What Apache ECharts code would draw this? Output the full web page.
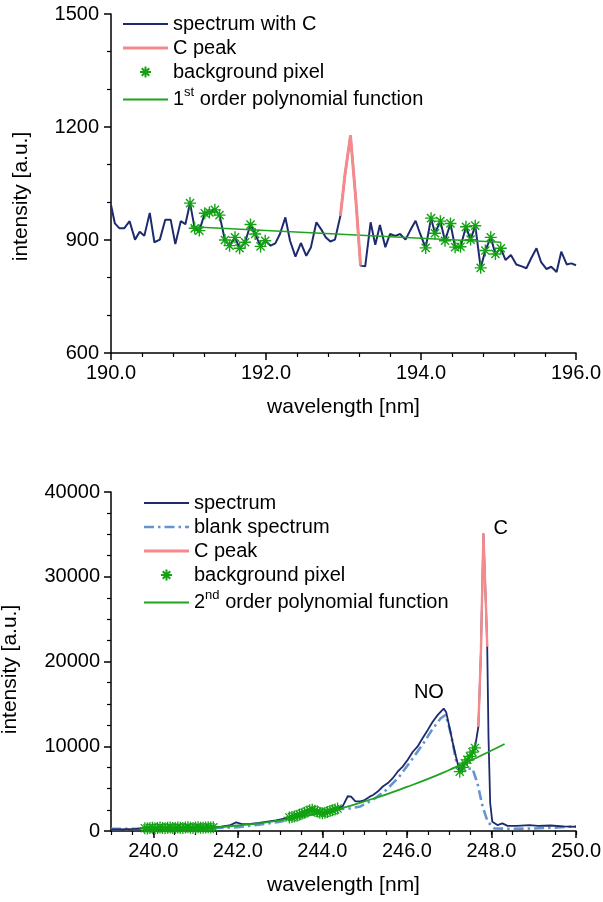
<!DOCTYPE html>
<html><head><meta charset="utf-8">
<script src="https://cdn.jsdelivr.net/npm/echarts@6/dist/echarts.min.js"></script>
<style>html,body{margin:0;padding:0;background:#fff}#c{width:603px;height:902px}</style>
</head><body><div id="c"></div>
<script>
// ---------- data ----------
const topXTicks = [190, 192, 194, 196];
const topYTicks = [600, 900, 1200, 1500];
const topSpectrum = [[190.00,993],[190.05,944],[190.11,931],[190.17,931],[190.24,950],[190.31,901],[190.37,922],[190.43,911],[190.50,972],[190.56,894],[190.63,901],[190.70,954],[190.77,954],[190.83,889],[190.90,950],[190.96,942],[191.02,998],[191.08,931],[191.14,925],[191.21,971],[191.27,973],[191.34,980],[191.40,966],[191.47,900],[191.53,885],[191.60,907],[191.66,878],[191.73,894],[191.80,941],[191.86,916],[191.93,883],[191.99,898],[192.06,885],[192.12,891],[192.18,916],[192.25,960],[192.31,898],[192.38,856],[192.45,892],[192.52,858],[192.58,881],[192.65,947],[192.71,929],[192.77,907],[192.83,896],[192.89,901],[192.96,964],[193.02,1075],[193.09,1177],[193.16,1005],[193.22,832],[193.28,830],[193.35,947],[193.41,887],[193.47,940],[193.54,881],[193.60,916],[193.67,911],[193.73,916],[193.80,901],[193.86,925],[193.93,951],[193.99,916],[194.06,879],[194.13,958],[194.18,918],[194.25,950],[194.31,898],[194.38,944],[194.44,881],[194.51,882],[194.58,935],[194.64,901],[194.70,938],[194.77,826],[194.83,872],[194.90,907],[194.96,863],[195.03,878],[195.09,847],[195.16,860],[195.23,835],[195.30,830],[195.36,825],[195.42,851],[195.49,878],[195.55,841],[195.62,823],[195.68,829],[195.75,815],[195.81,869],[195.88,835],[195.94,838],[196.00,833]];
const topPeak = [[192.96,964],[193.02,1075],[193.09,1177],[193.16,1005],[193.22,832]];
const topBackground = [[191.02,998],[191.08,931],[191.14,925],[191.21,971],[191.27,973],[191.34,980],[191.40,966],[191.47,900],[191.53,885],[191.60,907],[191.66,878],[191.73,894],[191.80,941],[191.86,916],[191.93,883],[191.99,898],[194.06,879],[194.13,958],[194.18,918],[194.25,950],[194.31,898],[194.38,944],[194.44,881],[194.51,882],[194.58,935],[194.64,901],[194.70,938],[194.77,826],[194.83,872],[194.90,907],[194.96,863],[195.03,878]];
const topFit = [[191.03,935],[195.03,894]];

const bottomXTicks = [240, 242, 244, 246, 248, 250];
const bottomYTicks = [0, 10000, 20000, 30000, 40000];
const bottomSpectrum = [[239.00,200],[239.20,180],[239.40,230],[239.60,260],[239.80,330],[239.92,350],[240.04,330],[240.16,400],[240.28,330],[240.40,420],[240.52,340],[240.64,380],[240.76,410],[240.88,380],[241.00,400],[241.12,390],[241.24,420],[241.36,410],[241.42,430],[241.60,500],[241.80,650],[241.96,1020],[242.10,820],[242.30,850],[242.50,950],[242.70,1100],[242.90,1250],[243.10,1450],[243.22,1600],[243.34,1700],[243.46,1950],[243.58,2150],[243.70,2450],[243.76,2500],[243.88,2300],[244.00,2100],[244.12,2250],[244.24,2450],[244.36,2650],[244.48,2900],[244.60,4100],[244.68,4050],[244.78,3500],[244.90,3500],[245.00,3650],[245.12,4050],[245.20,4250],[245.31,4650],[245.43,5250],[245.55,5650],[245.66,6200],[245.78,7000],[245.90,7600],[246.02,8400],[246.14,9350],[246.25,9950],[246.37,10950],[246.49,11900],[246.61,12900],[246.73,13700],[246.87,14450],[246.93,14000],[247.00,12400],[247.08,10500],[247.16,8800],[247.25,7000],[247.31,7500],[247.37,8000],[247.43,8400],[247.49,8800],[247.55,9300],[247.61,9800],[247.69,12300],[247.75,21000],[247.81,35100],[247.87,26500],[247.90,21750],[247.93,11100],[247.97,3300],[248.02,1100],[248.14,700],[248.26,900],[248.38,600],[248.60,600],[248.90,700],[249.10,600],[249.40,650],[249.70,550],[250.00,500]];
const bottomBlank = [[239.00,250],[239.50,250],[240.00,300],[240.50,350],[241.00,300],[241.50,350],[242.00,450],[242.50,750],[243.00,1100],[243.50,1700],[243.80,2200],[244.10,2200],[244.40,2600],[244.60,2600],[244.90,2900],[245.20,3700],[245.50,4800],[245.80,6300],[246.10,8300],[246.40,10400],[246.60,12000],[246.80,13300],[246.92,13700],[247.04,11500],[247.16,8400],[247.25,7200],[247.40,7300],[247.55,7400],[247.67,5600],[247.79,2900],[247.91,1100],[248.07,300],[248.50,250],[249.00,300],[249.50,400],[250.00,550]];
const bottomPeak = [[247.69,12300],[247.75,21000],[247.81,35100],[247.87,26500],[247.90,21750]];
const bottomBackground = [[239.80,330],[239.86,300],[239.92,350],[239.98,380],[240.04,330],[240.10,360],[240.16,400],[240.22,350],[240.28,330],[240.34,390],[240.40,420],[240.46,360],[240.52,340],[240.58,400],[240.64,380],[240.70,350],[240.76,410],[240.82,430],[240.88,380],[240.94,360],[241.00,400],[241.06,440],[241.12,390],[241.18,370],[241.24,420],[241.30,450],[241.36,410],[241.42,430],[243.22,1600],[243.28,1650],[243.34,1700],[243.40,1800],[243.46,1950],[243.52,2050],[243.58,2150],[243.64,2300],[243.70,2450],[243.76,2500],[243.82,2400],[243.88,2300],[243.94,2150],[244.00,2100],[244.06,2150],[244.12,2250],[244.18,2350],[244.24,2450],[244.30,2550],[244.36,2650],[247.25,7000],[247.31,7500],[247.37,8000],[247.43,8400],[247.49,8800],[247.55,9300],[247.61,9800]];
const bottomFit = [[239.80,250],[240.50,280],[241.00,330],[241.50,430],[242.00,650],[242.50,900],[243.00,1250],[243.50,1700],[244.00,2150],[244.50,2750],[245.00,3500],[245.50,4300],[246.00,5200],[246.50,6150],[247.00,7200],[247.50,8300],[248.00,9500],[248.31,10270]];
const bottomAnnotations = [{name:'NO', value:[246.52,16300]}, {name:'C', value:[248.22,35700]}];

const legendLabels = {
  spec1: 'spectrum with C', peak1: 'C peak', bg1: 'background pixel', fit1: '1{sup|st} order polynomial function',
  spec2: 'spectrum', blank2: 'blank spectrum', peak2: 'C peak', bg2: 'background pixel', fit2: '2{sup|nd} order polynomial function'
};

// ---------- styles ----------
const FONT = 'Liberation Sans, Arial, sans-serif';
const NAVY = '#1d2b6e', RED = '#f58a8c', GREEN = '#12a212', FITG = '#1ea41e', BLUE = '#6595cf';
const STAR = 'path://M5,0L5,10M0,5L10,5M1.6,1.6L8.4,8.4M1.6,8.4L8.4,1.6';
const ICON_LINE2 = 'path://M0,0H45V2H0Z';
const ICON_LINE3 = 'path://M0,0H45V3H0Z';
const ICON_DASHDOT = 'path://M0,0H10V2.6H0Z M14,0H16.5V2.6H14Z M20.5,0H30.5V2.6H20.5Z M34.5,0H37V2.6H34.5Z M41,0H45V2.6H41Z';

function axisBase() {
  return {
    type: 'value',
    axisLine: {show: true, onZero: false, lineStyle: {color: '#000', width: 1.5}},
    axisTick: {show: true, inside: false, length: 7, lineStyle: {color: '#000', width: 1.5}},
    minorTick: {show: true, length: 4, lineStyle: {color: '#000', width: 1.2}},
    splitLine: {show: false},
    minorSplitLine: {show: false},
    axisLabel: {color: '#000', fontSize: 20, fontFamily: FONT},
    nameLocation: 'middle',
    nameTextStyle: {color: '#000', fontSize: 21, fontFamily: FONT}
  };
}

const legendText = {
  color: '#000', fontSize: 20, fontFamily: FONT, lineHeight: 20,
  rich: {sup: {fontSize: 13, fontFamily: FONT, color: '#000', lineHeight: 13, verticalAlign: 'middle', padding: [0, 0, 14, 0]}}
};
const noBorder = {borderWidth: 0};

const chart = echarts.init(document.getElementById('c'), null, {renderer: 'canvas'});

const option = {
  animation: false,
  backgroundColor: '#fff',
  textStyle: {fontFamily: FONT},
  grid: [
    {left: 111, top: 14, width: 465, height: 339, outerBoundsMode: 'none', containLabel: false},
    {left: 111, top: 492, width: 465, height: 339, outerBoundsMode: 'none', containLabel: false}
  ],
  xAxis: [
    Object.assign(axisBase(), {
      gridIndex: 0, min: topXTicks[0], max: topXTicks[topXTicks.length - 1], interval: topXTicks[1] - topXTicks[0],
      name: 'wavelength [nm]', nameGap: 44,
      minorTick: {show: true, splitNumber: 5, length: 4, lineStyle: {color: '#000', width: 1.2}},
      axisLabel: {color: '#000', fontSize: 20, fontFamily: FONT, margin: 10, formatter: v => v.toFixed(1)}
    }),
    Object.assign(axisBase(), {
      gridIndex: 1, position: 'bottom', min: 239, max: 250, interval: 0.5,
      name: 'wavelength [nm]', nameGap: 44,
      axisTick: {show: true, length: 4, lineStyle: {color: '#000', width: 1.2}},
      minorTick: {show: false},
      axisLabel: {color: '#000', fontSize: 20, fontFamily: FONT, margin: 10,
        formatter: v => bottomXTicks.some(t => Math.abs(t - v) < 1e-6) ? v.toFixed(1) : ''}
    }),
    {
      type: 'value', gridIndex: 1, position: 'bottom', offset: 0, min: 239, max: 250,
      axisLine: {show: false}, axisLabel: {show: false}, splitLine: {show: false},
      axisTick: {show: true, length: 7, customValues: bottomXTicks, lineStyle: {color: '#000', width: 1.5}}
    }
  ],
  yAxis: [
    Object.assign(axisBase(), {
      gridIndex: 0, min: topYTicks[0], max: topYTicks[topYTicks.length - 1], interval: topYTicks[1] - topYTicks[0],
      name: 'intensity [a.u.]', nameGap: 79,
      nameTextStyle: {color: '#000', fontSize: 21, fontFamily: FONT, padding: [0, 26, 0, 0]},
      minorTick: {show: true, splitNumber: 3, length: 4, lineStyle: {color: '#000', width: 1.2}},
      axisLabel: {color: '#000', fontSize: 20, fontFamily: FONT, margin: 12, formatter: v => String(v)}
    }),
    Object.assign(axisBase(), {
      gridIndex: 1, min: bottomYTicks[0], max: bottomYTicks[bottomYTicks.length - 1], interval: bottomYTicks[1] - bottomYTicks[0],
      name: 'intensity [a.u.]', nameGap: 90,
      nameTextStyle: {color: '#000', fontSize: 21, fontFamily: FONT, padding: [0, 16, 0, 0]},
      minorTick: {show: true, splitNumber: 4, length: 4, lineStyle: {color: '#000', width: 1.2}},
      axisLabel: {color: '#000', fontSize: 20, fontFamily: FONT, margin: 11, formatter: v => String(v)}
    })
  ],
  legend: [
    {
      orient: 'vertical', left: 123, top: 14, padding: 0, itemWidth: 45, itemHeight: 11, itemGap: 4, selectedMode: false,
      data: [
        {name: 'spec1', icon: ICON_LINE2, itemStyle: noBorder},
        {name: 'peak1', icon: ICON_LINE3, itemStyle: noBorder},
        {name: 'bg1', icon: STAR},
        {name: 'fit1', icon: ICON_LINE2, itemStyle: noBorder}
      ],
      formatter: n => legendLabels[n],
      textStyle: legendText
    },
    {
      orient: 'vertical', left: 144, top: 493, padding: 0, itemWidth: 45, itemHeight: 11, itemGap: 4, selectedMode: false,
      data: [
        {name: 'spec2', icon: ICON_LINE2, itemStyle: noBorder},
        {name: 'blank2', icon: ICON_DASHDOT, itemStyle: noBorder},
        {name: 'peak2', icon: ICON_LINE3, itemStyle: noBorder},
        {name: 'bg2', icon: STAR},
        {name: 'fit2', icon: ICON_LINE2, itemStyle: noBorder}
      ],
      formatter: n => legendLabels[n],
      textStyle: legendText
    }
  ],
  series: [
    {name: 'spec1', type: 'line', xAxisIndex: 0, yAxisIndex: 0, data: topSpectrum, symbol: 'none',
      lineStyle: {color: NAVY, width: 2}, itemStyle: {color: NAVY}, z: 2},
    {name: 'fit1', type: 'line', xAxisIndex: 0, yAxisIndex: 0, data: topFit, symbol: 'none',
      lineStyle: {color: FITG, width: 1.6}, itemStyle: {color: FITG}, z: 3},
    {name: 'bg1', type: 'scatter', xAxisIndex: 0, yAxisIndex: 0, data: topBackground, symbol: STAR, symbolSize: 12,
      itemStyle: {color: GREEN, borderColor: GREEN, borderWidth: 1.4, opacity: 1}, z: 4},
    {name: 'peak1', type: 'line', xAxisIndex: 0, yAxisIndex: 0, data: topPeak, symbol: 'none',
      lineStyle: {color: RED, width: 3}, itemStyle: {color: RED}, z: 5},

    {name: 'blank2', type: 'line', xAxisIndex: 1, yAxisIndex: 1, data: bottomBlank, symbol: 'none',
      lineStyle: {color: BLUE, width: 2.6, type: [10, 4, 2.5, 4]}, itemStyle: {color: BLUE}, z: 2},
    {name: 'spec2', type: 'line', xAxisIndex: 1, yAxisIndex: 1, data: bottomSpectrum, symbol: 'none',
      lineStyle: {color: NAVY, width: 1.8}, itemStyle: {color: NAVY}, z: 3},
    {name: 'fit2', type: 'line', xAxisIndex: 1, yAxisIndex: 1, data: bottomFit, symbol: 'none', smooth: true,
      lineStyle: {color: FITG, width: 1.8}, itemStyle: {color: FITG}, z: 4},
    {name: 'bg2', type: 'scatter', xAxisIndex: 1, yAxisIndex: 1, data: bottomBackground, symbol: STAR, symbolSize: 12,
      itemStyle: {color: GREEN, borderColor: GREEN, borderWidth: 1.3, opacity: 1}, z: 5},
    {name: 'peak2', type: 'line', xAxisIndex: 1, yAxisIndex: 1, data: bottomPeak, symbol: 'none',
      lineStyle: {color: RED, width: 2.4}, itemStyle: {color: RED}, z: 6},
    {name: 'ann2', type: 'scatter', xAxisIndex: 1, yAxisIndex: 1, data: bottomAnnotations, symbolSize: 1,
      itemStyle: {color: 'transparent', opacity: 1}, silent: true, z: 7,
      label: {show: true, position: 'inside', formatter: '{b}', color: '#000', fontSize: 20, fontFamily: FONT}}
  ]
};
chart.setOption(option);
</script></body></html>
